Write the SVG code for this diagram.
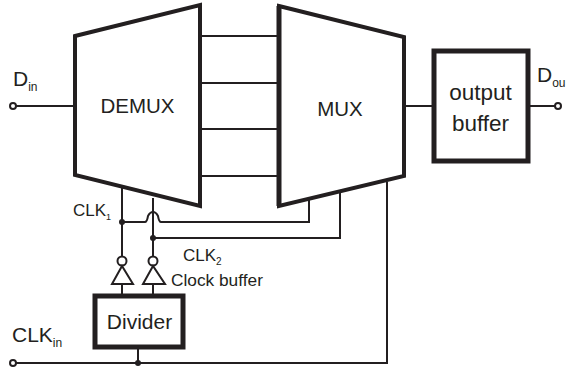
<svg xmlns="http://www.w3.org/2000/svg" width="566" height="369" viewBox="0 0 566 369">
<style>
.w{fill:none;stroke:#231f20;stroke-width:2}
.b{fill:#fff;stroke:#231f20;stroke-width:5}
.t{fill:none;stroke:#231f20;stroke-width:4}
.m{fill:none;stroke:#231f20;stroke-width:5}
.i{fill:#fff;stroke:#231f20;stroke-width:2}
.d{fill:#231f20}
text{font-family:"Liberation Sans",Arial,sans-serif;fill:#231f20}
</style>
<rect width="566" height="369" fill="#fff"/>
<g id="connectors">
<circle class="i" cx="13" cy="106" r="3"/>
<path class="w" d="M16 106H75M201 36H278M201 83H278M201 129H278M201 176H278M404 106H434M528 106H555"/>
<circle class="i" cx="558" cy="106" r="3"/>
<path class="w" d="M122 188V288M153 198V288"/>
<path class="w" d="M122 222H145Q147 222 148 216Q150 212 153 212Q156 212 158 216Q159 222 161 222H309V200"/>
<path class="w" d="M153 238H340V192"/>
<circle class="d" cx="122" cy="222" r="3"/>
<circle class="d" cx="153" cy="238" r="3"/>
<path class="w" d="M16 363H387V182"/>
<path class="w" d="M138 348V363"/>
<circle class="d" cx="138" cy="363" r="3"/>
<circle class="i" cx="13" cy="363" r="3"/>
</g>
<g id="demux"><path class="t" d="M75 36L200 5V206L75 175Z"/><text x="137.500" y="113" font-size="20.500" text-anchor="middle">DEMUX</text></g>
<g id="mux"><path class="t" d="M279 6L404 37V176L279 206Z"/><path class="m" d="M279 6V206"/><text x="340" y="116" font-size="20.500" text-anchor="middle">MUX</text></g>
<g id="output-buffer"><rect class="b" x="434" y="51" width="94" height="110"/><text x="480.500" y="100" font-size="22.500" text-anchor="middle">output</text><text x="480.500" y="131" font-size="22.500" text-anchor="middle">buffer</text></g>
<g id="divider"><rect class="b" x="95" y="296" width="88" height="51"/><text x="139.500" y="329" font-size="21" text-anchor="middle">Divider</text></g>
<g id="buffer-1"><circle class="i" cx="122" cy="261" r="4.500"/><path class="i" d="M122 266L112 284H133Z"/><path class="w" d="M122 284V296"/></g>
<g id="buffer-2"><circle class="i" cx="153" cy="261" r="4.500"/><path class="i" d="M153 266L143 284H165Z"/><path class="w" d="M153 284V296"/></g>
<g id="labels">
<text x="13" y="86" font-size="21">D<tspan font-size="12" dy="5">in</tspan></text>
<text x="537" y="82" font-size="21">D<tspan font-size="12" dy="5">ou</tspan></text>
<text x="73" y="216" font-size="17">CLK<tspan font-size="9" dy="4">1</tspan></text>
<text x="183" y="261" font-size="17">CLK<tspan font-size="10" dy="4">2</tspan></text>
<text x="171" y="286" font-size="17.300">Clock buffer</text>
<text x="12" y="342" font-size="21">CLK<tspan font-size="12" dy="5">in</tspan></text>
</g>
</svg>
